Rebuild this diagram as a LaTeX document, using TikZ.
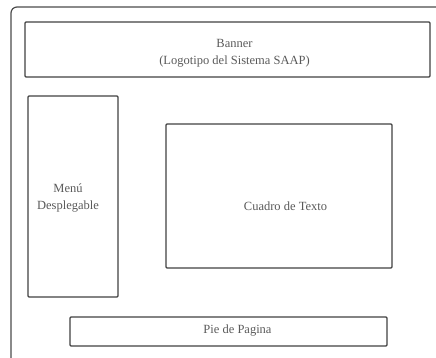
\documentclass[tikz,border=0pt]{standalone}
\usepackage{fontspec}
\setmainfont{Liberation Serif}
\begin{document}
\begin{tikzpicture}[x=1pt,y=-1pt,
  boxstyle/.style={draw=black!75, line width=1.3pt, rounded corners=1pt},
  txt/.style={font=\fontsize{12.5}{17}\selectfont, text=black!65, align=center}]
\useasboundingbox (0,0) rectangle (436,358);
\begin{scope}
\clip (0,0) rectangle (436,358);
\draw[draw=black!70, line width=1.2pt, rounded corners=6pt] (11,7) rectangle (450,370);
\end{scope}
\draw[boxstyle] (25,22) rectangle (430,77);
\node[txt] (banner) at (234.5,53) {Banner\\(Logotipo del Sistema SAAP)};
\draw[boxstyle] (28,96) rectangle (118,297);
\node[txt] (menu) at (68,198.5) {Menú\\Desplegable};
\draw[boxstyle] (166,124) rectangle (392,268);
\node[txt] (cuadro) at (285.5,206) {Cuadro de Texto};
\draw[boxstyle] (70,317) rectangle (387,346);
\node[txt] (pie) at (237.5,330.5) {Pie de Pagina};
\end{tikzpicture}
\end{document}
